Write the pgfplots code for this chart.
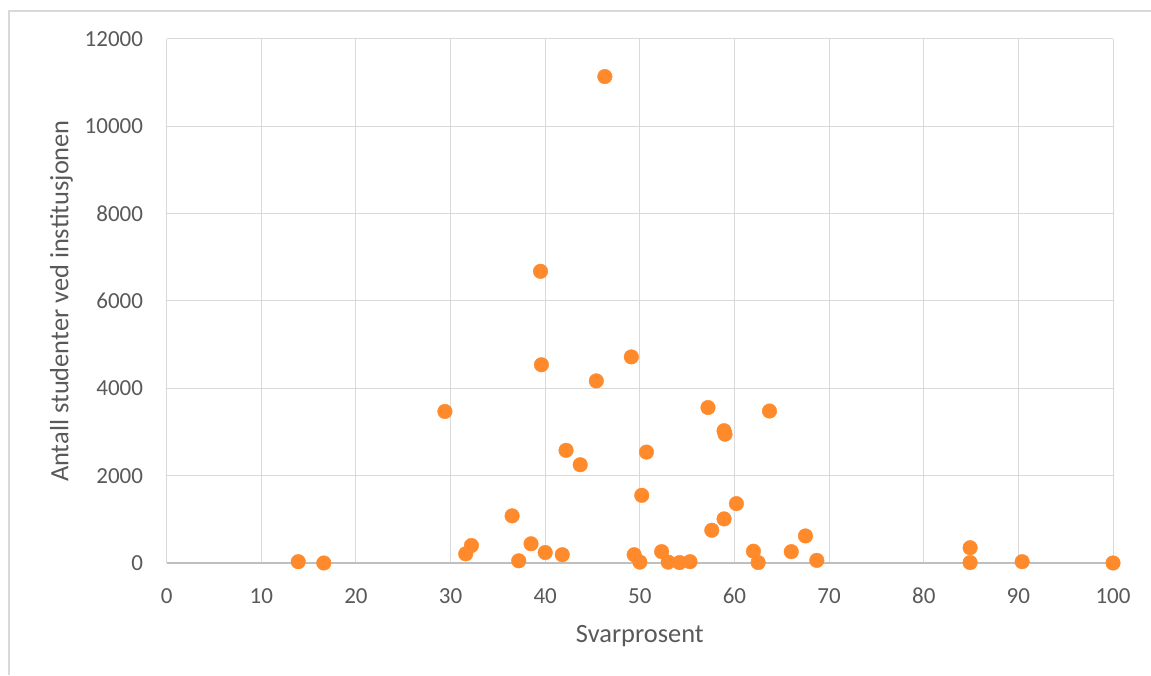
\documentclass[border=0pt]{standalone}
\usepackage{fontspec}
\setmainfont{Carlito}
\usepackage{pgfplots}
\pgfplotsset{compat=1.18}
\definecolor{dotorange}{HTML}{FF8A2C}
\definecolor{gridgrey}{HTML}{D9D9D9}
\definecolor{axisgrey}{HTML}{BFBFBF}
\definecolor{textgrey}{HTML}{595959}
\begin{document}
\begin{tikzpicture}
\path[use as bounding box] (0,0) rectangle (1151pt,675pt);
% chart frame (only top and left edges are visible)
\draw[gridgrey, line width=1.2pt] (9pt,0) -- (9pt,664pt) -- (1151pt,664pt);
\begin{axis}[
  at={(166.7pt,112pt)}, anchor=south west,
  scale only axis,
  width=946.3pt, height=524pt,
  xmin=0, xmax=100, ymin=0, ymax=12000,
  xtick={0,10,...,100},
  ytick={0,2000,...,12000},
  scaled y ticks=false,
  grid=major,
  grid style={gridgrey, line width=1pt},
  axis line style={draw=none},
  major tick length=0pt,
  extra y ticks={0},
  extra y tick labels={},
  extra y tick style={grid style={axisgrey, line width=1.2pt}},
  /pgf/number format/1000 sep={},
  /pgf/number format/assume math mode=true,
  tick label style={font=\fontsize{23}{27}\selectfont, text=textgrey, inner sep=0pt},
  xticklabel style={anchor=north, yshift=-25pt},
  yticklabel style={anchor=east, xshift=-23.5pt},
  xlabel={Svarprosent},
  ylabel={Antall studenter ved institusjonen},
  label style={font=\fontsize{26.4}{30}\selectfont, text=textgrey, inner sep=0pt},
  xlabel style={at={(axis description cs:0.5,-0.1508)}, anchor=base},
  ylabel style={at={(axis description cs:-0.104,0.5)}, anchor=base},
  clip=false,
]
\addplot[only marks, mark=*, mark size=7.3pt,
  mark options={fill=dotorange, draw=dotorange}] coordinates {
  (13.9,30) (16.6,0) (29.4,3470) (31.6,210) (32.2,400)
  (36.5,1080) (37.2,50) (38.5,440) (39.5,6680) (39.6,4540)
  (40.0,240) (41.8,190) (42.2,2580) (43.7,2250) (45.4,4170)
  (46.3,11140) (49.1,4720) (49.4,190) (50.0,20) (50.2,1550)
  (50.7,2540) (52.3,260) (53.0,20) (54.2,10) (55.3,30)
  (57.2,3560) (57.6,750) (58.9,3030) (58.9,1010) (59.0,2950)
  (60.2,1360) (62.0,270) (62.5,10) (63.7,3480) (66.0,260)
  (67.5,620) (68.7,60) (84.9,350) (84.9,10) (90.4,30)
  (100,0)
};
\end{axis}
\end{tikzpicture}
\end{document}
